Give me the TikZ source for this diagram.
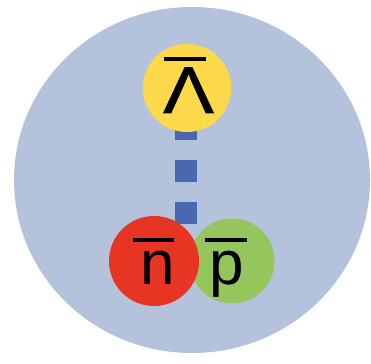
\documentclass[tikz,border=0pt]{standalone}
\usepackage{fontspec}
\setmainfont{Liberation Sans}
\newfontfamily\lamfont[FakeStretch=1.15, FakeBold=1.2]{Liberation Sans}
\definecolor{bgblue}{HTML}{B4C2DC}
\definecolor{lamyellow}{HTML}{FCD94B}
\definecolor{nred}{HTML}{E83423}
\definecolor{pgreen}{HTML}{95C65E}
\definecolor{bondblue}{HTML}{4A68B0}
\newcommand\ovl[4]{%
  \setbox0\hbox{#1}%
  \hbox to \wd0{\hss\makebox[0pt]{\kern#4\kern#4\raisebox{#3}{\rule{#2}{4pt}}}\hss}%
  \kern-\wd0\box0}
\tikzset{
  particle/.style={circle, minimum size=#1, inner sep=0pt},
  label/.style={anchor=base, inner sep=0pt, text=black},
  bond/.style={draw=bondblue, line width=22pt, line cap=butt,
    dash pattern=on 22pt off 20pt, dash phase=12pt}
}
\begin{document}
\begin{tikzpicture}[x=1pt, y=1pt]
  \useasboundingbox (0,0) rectangle (371,363);
  \fill[white] (0,0) rectangle (371,363);
  \fill[bgblue] (192,183) ellipse [x radius=178, y radius=173];
  \coordinate (bondend) at (186,133);
  \node[particle=88pt, fill=lamyellow] (lam) at (187,275) {};
  \draw[bond] (186,275) -- (bondend);
  \node[particle=85pt, fill=pgreen] (pbar) at (232,102) {};
  \node[particle=90pt, fill=nred] (nbar) at (154,102) {};
  \node[particle=88pt, fill=lamyellow] at (lam) {};
  \node[label, font=\lamfont\fontsize{66}{70}\selectfont] (lamtext) at (188.5,250)
    {\ovl{Λ}{42pt}{52pt}{-3.5pt}};
  \node[label, font=\fontsize{62}{66}\selectfont] (ntext) at (157.5,78)
    {\ovl{n}{41pt}{43pt}{-4pt}};
  \node[label, font=\fontsize{62}{66}\selectfont] (ptext) at (227,78)
    {\ovl{p}{42pt}{43pt}{-1pt}};
\end{tikzpicture}
\end{document}
